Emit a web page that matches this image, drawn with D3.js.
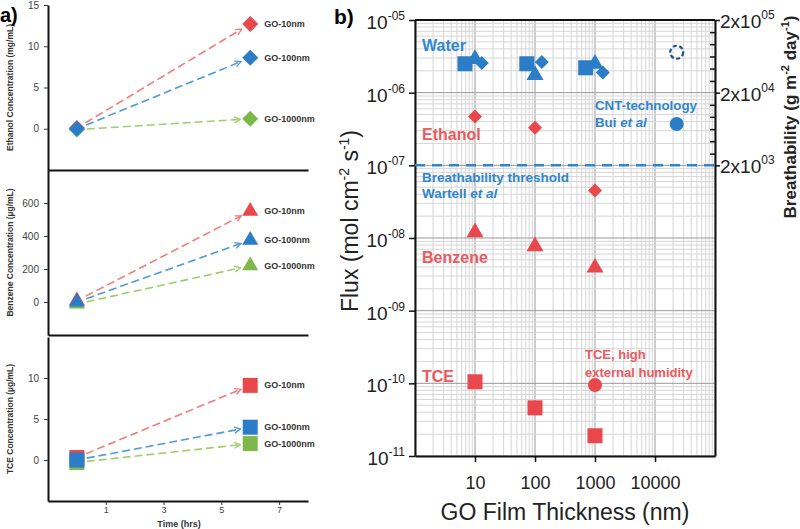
<!DOCTYPE html>
<html>
<head>
<meta charset="utf-8">
<script src="https://cdn.jsdelivr.net/npm/d3@7"></script>
<style>
  body { margin: 0; background: #fff; }
  text { font-family: "Liberation Sans", Arial, sans-serif; }
</style>
</head>
<body>
<div id="chart"></div>
<script>
// ---- panel a: concentration at 0 h and 6 h ----
const times = [0, 6];
const films = ["GO-10nm", "GO-100nm", "GO-1000nm"];
const filmColors = ["#e8474b", "#2a7dc6", "#7cb84a"];
const lineColors = ["#f27b7b", "#4c9ad8", "#9fcd6a"];
const ethanolConc = [[0.1, 12.7], [0, 8.6], [-0.1, 1.2]];   // mg/mL
const benzeneConc = [[8, 550], [0, 375], [-12, 220]];      // µg/mL
const tceConc = [[0.3, 9.1], [0, 4.0], [-0.3, 2.0]];        // µg/mL
const ethanolTicks = [0, 5, 10, 15];
const benzeneTicks = [0, 200, 400, 600];
const tceTicks = [0, 5, 10];
const timeTicks = [1, 3, 5, 7];

// ---- panel b: flux vs GO film thickness ----
const waterSquareThk = [6.8, 73, 700];
const waterSquareFlux = [2.5e-6, 2.5e-6, 2.2e-6];
const waterTriangleThk = [10, 100, 1000];
const waterTriangleFlux = [2.9e-6, 1.75e-6, 2.5e-6];
const waterDiamondThk = [13, 130, 1350];
const waterDiamondFlux = [2.55e-6, 2.65e-6, 1.9e-6];
const ethanolThk = [10, 100, 1000];
const ethanolFlux = [4.7e-7, 3.3e-7, 4.5e-8];
const benzeneThk = [10, 100, 1000];
const benzeneFlux = [1.2e-8, 7.7e-9, 3.9e-9];
const tceThk = [10, 100, 1000];
const tceFlux = [1.05e-10, 4.6e-11, 1.9e-11];
const tceHumidThk = [1000];
const tceHumidFlux = [9.5e-11];
const cntThk = [23000];
const cntFlux = [3.7e-7];
const cntProjFlux = [3.6e-6];
const thresholdFlux = 1e-7;
const fluxTicks = [1e-5, 1e-6, 1e-7, 1e-8, 1e-9, 1e-10, 1e-11];
const thkTicks = [10, 100, 1000, 10000];
const breathTicks = [2e3, 2e4, 2e5];
const breathMinor = [2.9e3, 4.3e3, 6.3e3, 9.3e3, 1.36e4, 2.9e4, 4.3e4, 6.3e4, 9.3e4, 1.36e5];

const blue = "#2a7dc6", red = "#e8474b";
const blueText = "#2f86cf", redText = "#ea5a5e";

const svg = d3.select("#chart").append("svg")
    .attr("width", 800)
    .attr("height", 529);

// open arrow heads for the dashed lines
const defs = svg.append("defs");
lineColors.forEach((c, i) => {
  defs.append("marker")
      .attr("id", "arr" + i)
      .attr("viewBox", "0 0 8 8")
      .attr("refX", 7).attr("refY", 4)
      .attr("markerWidth", 8).attr("markerHeight", 8)
      .attr("markerUnits", "userSpaceOnUse")
      .attr("orient", "auto")
      .append("path")
      .attr("d", "M1,1 L7,4 L1,7")
      .attr("fill", "none")
      .attr("stroke", c)
      .attr("stroke-width", 1.3);
});

function symbolPath(shape, s) {
  if (shape === "square") return d3.symbol(d3.symbolSquare, s * s)();
  if (shape === "triangle") return d3.symbol(d3.symbolTriangle, s * s * 0.433)();
  if (shape === "diamond") return d3.symbol(d3.symbolSquare, s * s / 2)();
  return d3.symbol(d3.symbolCircle, Math.PI * s * s / 4)();
}
function symbolTransform(shape, x, y) {
  return `translate(${x},${y})` + (shape === "diamond" ? " rotate(45)" : "");
}

// ================= panel a =================
const xA = d3.scaleLinear().domain([-1, 8]).range([48, 308]);
const subplots = [
  { label: "Ethanol Concentration (mg/mL)", values: ethanolConc, ticks: ethanolTicks, domain: [-5, 15], range: [170, 5], shape: "diamond" },
  { label: "Benzene Concentration (µg/mL)", values: benzeneConc, ticks: benzeneTicks, domain: [-200, 800], range: [335, 170], shape: "triangle" },
  { label: "TCE Concentration (µg/mL)", values: tceConc, ticks: tceTicks, domain: [-5, 15], range: [501, 337], shape: "square" }
];
const drawOrder = [0, 2, 1];

subplots.forEach((p, k) => {
  const y = d3.scaleLinear().domain(p.domain).range(p.range);
  const g = svg.append("g");

  const ya = g.append("g")
      .attr("transform", "translate(" + xA.range()[0] + ",0)")
      .call(d3.axisLeft(y).tickValues(p.ticks).tickSize(4).tickSizeOuter(0).tickPadding(5));
  const xa = g.append("g")
      .attr("transform", "translate(0," + p.range[0] + ")")
      .call(d3.axisBottom(xA).tickValues(k === 2 ? timeTicks : []).tickSize(4).tickSizeOuter(0).tickPadding(2));
  [ya, xa].forEach(a => {
    a.select(".domain").attr("stroke", "#111").attr("stroke-width", 2);
    a.selectAll(".tick line").attr("stroke", "#333");
    a.selectAll(".tick text").attr("font-size", 10).attr("fill", "#444");
  });
  xa.selectAll(".tick text").attr("font-size", 9);

  g.append("text")
      .attr("transform", `translate(13,${(p.range[0] + p.range[1]) / 2}) rotate(-90)`)
      .attr("text-anchor", "middle")
      .attr("font-size", 8.5)
      .attr("font-weight", "bold")
      .attr("fill", "#333")
      .text(p.label);

  // dashed lines with arrows from 0 h to 6 h
  drawOrder.forEach(i => {
    const v = p.values[i];
    const x0 = xA(times[0]), y0 = y(v[0]), x1 = xA(times[1]), y1 = y(v[1]);
    const len = Math.hypot(x1 - x0, y1 - y0);
    const ux = (x1 - x0) / len, uy = (y1 - y0) / len;
    g.append("line")
        .attr("x1", x0 + ux * 10).attr("y1", y0 + uy * 10)
        .attr("x2", x1 - ux * 10).attr("y2", y1 - uy * 10)
        .attr("stroke", lineColors[i])
        .attr("stroke-width", 1.6)
        .attr("stroke-dasharray", "8,4")
        .attr("marker-end", "url(#arr" + i + ")");
  });

  drawOrder.forEach(i => {
    p.values[i].forEach((v, j) => {
      g.append("path")
          .attr("d", symbolPath(p.shape, p.shape === "square" ? 15 : 16))
          .attr("transform", symbolTransform(p.shape, xA(times[j]), y(v)))
          .attr("fill", filmColors[i]);
    });
    g.append("text")
        .attr("x", xA(times[1]) + 14)
        .attr("y", y(p.values[i][1]) + 3)
        .attr("font-size", 9)
        .attr("font-weight", "bold")
        .attr("fill", "#333")
        .text(films[i]);
  });
});

svg.append("text")
    .attr("x", 179).attr("y", 527)
    .attr("text-anchor", "middle")
    .attr("font-size", 9)
    .attr("font-weight", "bold")
    .attr("fill", "#333")
    .text("Time (hrs)");

svg.append("text")
    .attr("x", 0).attr("y", 22)
    .attr("font-size", 20)
    .attr("font-weight", "bold")
    .text("a)");

// ================= panel b =================
const xB = d3.scaleLog().domain([1, 1e5]).range([415, 715]);
const yB = d3.scaleLog().domain([1e-11, 1e-5]).range([456, 20]);
const yR = d3.scaleLog().domain([0.2, 2e5]).range([456, 20]);
const isDecade = v => Math.abs(Math.log10(v) - Math.round(Math.log10(v))) < 1e-6;

const grid = svg.append("g");
grid.selectAll(".vg")
    .data(xB.ticks())
    .join("line")
    .attr("x1", d => xB(d)).attr("x2", d => xB(d))
    .attr("y1", 20).attr("y2", 456)
    .attr("stroke", d => isDecade(d) ? "#999" : "#d6d6d6")
    .attr("stroke-width", 1);
grid.selectAll(".hg")
    .data(yB.ticks())
    .join("line")
    .attr("y1", d => yB(d)).attr("y2", d => yB(d))
    .attr("x1", 415).attr("x2", 715)
    .attr("stroke", d => isDecade(d) ? "#999" : "#d6d6d6")
    .attr("stroke-width", 1);

// axes
const left = svg.append("g").attr("transform", "translate(415,0)")
    .call(d3.axisLeft(yB).tickValues(fluxTicks).tickSize(6).tickSizeOuter(0).tickFormat(""));
const bottom = svg.append("g").attr("transform", "translate(0,456)")
    .call(d3.axisBottom(xB).tickValues(thkTicks).tickSize(6).tickSizeOuter(0).tickFormat(d3.format("d")).tickPadding(14));
const right = svg.append("g").attr("transform", "translate(715,0)")
    .call(d3.axisRight(yR).tickValues(breathTicks).tickSize(5).tickSizeOuter(0).tickFormat(""));
const rightMinor = svg.append("g").attr("transform", "translate(715,0)")
    .call(d3.axisRight(yR).tickValues(breathMinor).tickSize(-5).tickFormat(""));
rightMinor.select(".domain").remove();
[left, bottom, right].forEach(a => a.select(".domain").attr("stroke", "#111").attr("stroke-width", 2));
[left, bottom, right, rightMinor].forEach(a => a.selectAll(".tick line").attr("stroke", "#111").attr("stroke-width", 1.5));
bottom.selectAll(".tick text").attr("font-size", 18).attr("fill", "#222");
svg.append("line")
    .attr("x1", 415).attr("x2", 715).attr("y1", 20).attr("y2", 20)
    .attr("stroke", "#111").attr("stroke-width", 2);

// superscript tick labels
const pad2 = n => (n < 0 ? "-" : "") + String(Math.abs(n)).padStart(2, "0");
fluxTicks.forEach(v => {
  const t = svg.append("text")
      .attr("x", 405).attr("y", yB(v) + 9)
      .attr("text-anchor", "end")
      .attr("font-size", 19)
      .attr("fill", "#222")
      .text("10");
  t.append("tspan").attr("dy", -9).attr("font-size", 12).text(pad2(Math.round(Math.log10(v))));
});
breathTicks.forEach(v => {
  const t = svg.append("text")
      .attr("x", 720).attr("y", yR(v) + 8)
      .attr("font-size", 19)
      .attr("fill", "#222")
      .text("2x10");
  t.append("tspan").attr("dy", -9).attr("font-size", 12).text(pad2(Math.round(Math.log10(v / 2))));
});

// axis titles
const fluxTitle = svg.append("text")
    .attr("transform", "translate(358,221) rotate(-90)")
    .attr("text-anchor", "middle")
    .attr("font-size", 23)
    .attr("fill", "#222")
    .text("Flux (mol cm");
fluxTitle.append("tspan").attr("dy", -9).attr("font-size", 14).text("-2");
fluxTitle.append("tspan").attr("dy", 9).text(" s");
fluxTitle.append("tspan").attr("dy", -9).attr("font-size", 14).text("-1");
fluxTitle.append("tspan").attr("dy", 9).text(")");

const breathTitle = svg.append("text")
    .attr("transform", "translate(796,117) rotate(-90)")
    .attr("text-anchor", "middle")
    .attr("font-size", 17)
    .attr("font-weight", "bold")
    .attr("fill", "#222")
    .text("Breathability (g m");
breathTitle.append("tspan").attr("dy", -7).attr("font-size", 11).text("-2");
breathTitle.append("tspan").attr("dy", 7).text(" day");
breathTitle.append("tspan").attr("dy", -7).attr("font-size", 11).text("-1");
breathTitle.append("tspan").attr("dy", 7).text(")");

svg.append("text")
    .attr("x", 565).attr("y", 520)
    .attr("text-anchor", "middle")
    .attr("font-size", 23)
    .attr("fill", "#222")
    .text("GO Film Thickness (nm)");

svg.append("text")
    .attr("x", 334).attr("y", 24)
    .attr("font-size", 21)
    .attr("font-weight", "bold")
    .text("b)");

// threshold line
svg.append("line")
    .attr("x1", 415).attr("x2", 715)
    .attr("y1", yB(thresholdFlux)).attr("y2", yB(thresholdFlux))
    .attr("stroke", blueText)
    .attr("stroke-width", 2.5)
    .attr("stroke-dasharray", "10,7");

// data points
function plotB(thk, flux, shape, color, size) {
  svg.append("g").selectAll("path")
      .data(thk.map((t, i) => [t, flux[i]]))
      .join("path")
      .attr("d", symbolPath(shape, size))
      .attr("transform", d => symbolTransform(shape, xB(d[0]), yB(d[1])))
      .attr("fill", color);
}
plotB(waterSquareThk, waterSquareFlux, "square", blue, 15);
plotB(waterTriangleThk, waterTriangleFlux, "triangle", blue, 17);
plotB(waterDiamondThk, waterDiamondFlux, "diamond", blue, 14);
plotB(ethanolThk, ethanolFlux, "diamond", red, 14);
plotB(benzeneThk, benzeneFlux, "triangle", red, 17);
plotB(tceThk, tceFlux, "square", red, 15);
plotB(tceHumidThk, tceHumidFlux, "circle", red, 14);
plotB(cntThk, cntFlux, "circle", blue, 14);
svg.append("g").selectAll("circle")
    .data(cntThk.map((t, i) => [t, cntProjFlux[i]]))
    .join("circle")
    .attr("cx", d => xB(d[0])).attr("cy", d => yB(d[1]))
    .attr("r", 6.5)
    .attr("fill", "none")
    .attr("stroke", "#1d4f8f")
    .attr("stroke-width", 2.2)
    .attr("stroke-dasharray", "4,2.5");

// annotations
function note(x, y, size, color, parts) {
  const t = svg.append("text")
      .attr("x", x).attr("y", y)
      .attr("font-size", size)
      .attr("font-weight", "bold")
      .attr("fill", color);
  parts.forEach(p => t.append("tspan").attr("font-style", p[1] ? "italic" : null).text(p[0]));
}
note(422, 51, 16, blueText, [["Water"]]);
note(422, 140, 16, redText, [["Ethanol"]]);
note(422, 182, 13.5, blueText, [["Breathability threshold"]]);
note(422, 198, 13.5, blueText, [["Wartell "], ["et al", true]]);
note(422, 263, 16, redText, [["Benzene"]]);
note(422, 382, 16, redText, [["TCE"]]);
note(585, 359, 13, redText, [["TCE, high"]]);
note(585, 377, 13, redText, [["external humidity"]]);
note(595, 110, 13.3, blueText, [["CNT-technology"]]);
note(595, 127, 13.3, blueText, [["Bui "], ["et al", true]]);
</script>
</body>
</html>
